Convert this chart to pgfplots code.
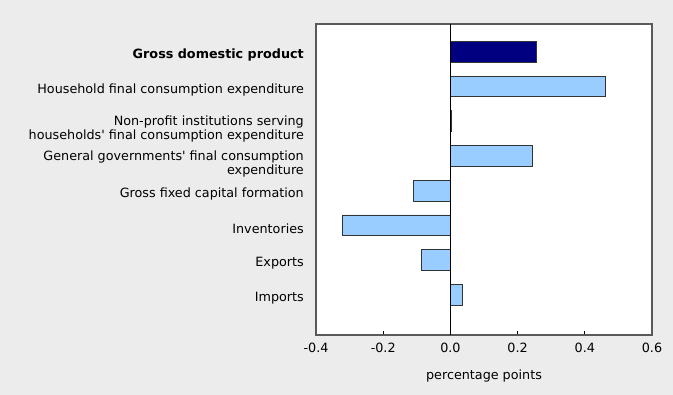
\documentclass[border=0pt]{standalone}
\usepackage{fontspec}
\setmainfont{DejaVu Sans}
\usepackage{pgfplots}
\pgfplotsset{compat=1.18}
\usetikzlibrary{backgrounds,calc}
\definecolor{bgc}{HTML}{ECECEC}
\definecolor{lightb}{HTML}{99CCFF}
\definecolor{navy}{HTML}{000080}
\definecolor{edgec}{HTML}{333333}
\definecolor{framec}{HTML}{595959}
\begin{document}
\begin{tikzpicture}
\begin{axis}[
  scale only axis,
  width=336bp, height=311bp,
  xmin=-0.4, xmax=0.6,
  ymin=-1.16, ymax=7.8,
  xtick={-0.4,-0.2,0,0.2,0.4,0.6},
  xtick pos=bottom,
  tick align=inside,
  major tick length=4bp,
  tick style={black, line width=0.8pt},
  ytick={0,1,2,3,4,5,6,7},
  yticklabels={Imports,Exports,Inventories,Gross fixed capital formation,{\rule{0pt}{19pt}General governments\textquotesingle{} final consumption\\expenditure},{\rule{0pt}{19pt}Non-profit institutions serving\\households\textquotesingle{} final consumption expenditure},Household final consumption expenditure,\textbf{Gross domestic product}},
  ytick style={draw=none},
  yticklabel style={align=right, font=\fontsize{12.8pt}{14pt}\selectfont, inner sep=0pt, xshift=-8bp, yshift=-3.5bp},
  xticklabel style={font=\fontsize{12.8pt}{14pt}\selectfont, yshift=-5bp},
  /pgf/number format/assume math mode=true,
  /pgf/number format/.cd, fixed, fixed zerofill, precision=1, /pgfplots/.cd,
  xlabel={percentage points},
  xlabel style={font=\fontsize{12.8pt}{14pt}\selectfont, yshift=-10bp},
  axis line style={draw=framec, line width=1.2pt},
  axis background/.style={fill=white},
  xbar,
  bar width=0.6,
  bar shift=0pt,
]
\addplot[fill=lightb, draw=edgec, line width=0.8pt] coordinates {
  (0.035,0) (-0.087,1) (-0.322,2) (-0.109,3) (0.243,4) (0.004,5) (0.460,6)
};
\addplot[fill=navy, draw=edgec, line width=0.8pt] coordinates {(0.257,7)};
\draw[black, line width=1pt] (axis cs:0,-1.16) -- (axis cs:0,7.8);
\draw[black, line width=1pt] (rel axis cs:0,0) -- (rel axis cs:1,0);
\end{axis}
\begin{scope}[on background layer]
\fill[bgc] ($(current axis.south west)+(-316bp,-60bp)$) rectangle ($(current axis.north east)+(21bp,24bp)$);
\end{scope}
\end{tikzpicture}
\end{document}
